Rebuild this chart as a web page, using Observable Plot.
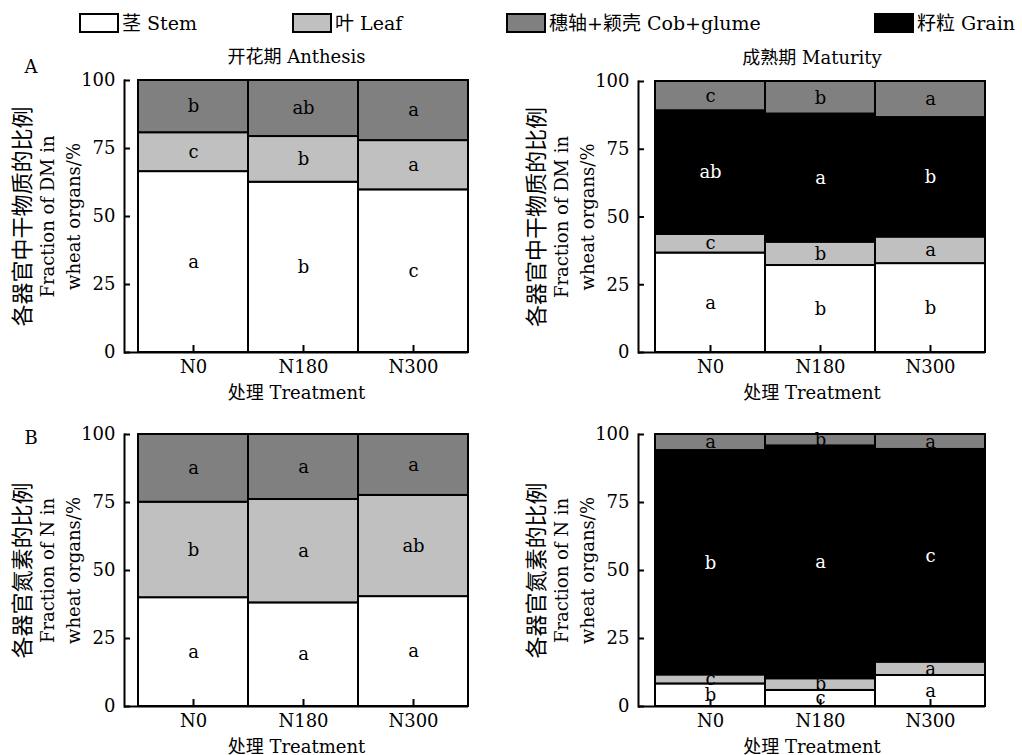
<!DOCTYPE html>
<html><head><meta charset="utf-8">
<script src="https://cdn.jsdelivr.net/npm/d3@7"></script>
<script src="https://cdn.jsdelivr.net/npm/@observablehq/plot@0.6"></script>
<style>
body{margin:0;background:#fff;}
#root{position:relative;width:1022px;height:755px;overflow:hidden;font-family:"DejaVu Serif","Noto Sans CJK SC",serif;color:#000;}
.panel{position:absolute;}
.panel svg{overflow:visible;}
.leg{position:absolute;display:flex;align-items:center;font-size:19px;white-space:nowrap;line-height:1;}
.sw{box-sizing:border-box;width:40px;height:20px;border:2px solid #000;margin-right:3px;}
.tag{position:absolute;font-size:18px;transform:translate(-50%,-50%);}
</style></head><body><div id="root"></div>
<script>
const FONT = '"DejaVu Serif","Noto Sans CJK SC",serif';
const treatments = ["N0", "N180", "N300"];
const legendOrgans = ["Stem", "Leaf", "Cob+glume", "Grain"];
const legendLabels = ["茎 Stem", "叶 Leaf", "穗轴+颖壳 Cob+glume", "籽粒 Grain"];
const organColors = ["#ffffff", "#c0c0c0", "#808080", "#000000"];
const yTicks = [0, 25, 50, 75, 100];
const xLabel = "处理 Treatment";
const titles = ["开花期 Anthesis", "成熟期 Maturity"];
const yLabelDM = ["各器官中干物质的比例", "Fraction of DM in", "wheat organs/%"];
const yLabelN = ["各器官氮素的比例", "Fraction of N in", "wheat organs/%"];

// A: dry matter, anthesis
const dmAnthStem = [66.5, 62.6, 59.8];
const dmAnthLeaf = [14.3, 16.8, 18.1];
const dmAnthCob = [19.2, 20.6, 22.1];
const dmAnthStemL = ["a", "b", "c"];
const dmAnthLeafL = ["c", "b", "a"];
const dmAnthCobL = ["b", "ab", "a"];
// A: dry matter, maturity
const dmMatStem = [36.7, 32.1, 32.8];
const dmMatLeaf = [6.9, 8.6, 9.8];
const dmMatGrain = [45.6, 47.3, 44.1];
const dmMatCob = [10.8, 12.0, 13.3];
const dmMatStemL = ["a", "b", "b"];
const dmMatLeafL = ["c", "b", "a"];
const dmMatGrainL = ["ab", "a", "b"];
const dmMatCobL = ["c", "b", "a"];
// B: nitrogen, anthesis
const nAnthStem = [40.0, 38.1, 40.4];
const nAnthLeaf = [35.1, 38.0, 37.2];
const nAnthCob = [24.9, 23.9, 22.4];
const nAnthStemL = ["a", "a", "a"];
const nAnthLeafL = ["b", "a", "ab"];
const nAnthCobL = ["a", "a", "a"];
// B: nitrogen, maturity
const nMatStem = [8.3, 5.9, 11.4];
const nMatLeaf = [3.3, 4.3, 4.9];
const nMatGrain = [82.5, 85.6, 78.2];
const nMatCob = [5.9, 4.2, 5.5];
const nMatStemL = ["b", "c", "a"];
const nMatLeafL = ["c", "b", "a"];
const nMatGrainL = ["b", "a", "c"];
const nMatCobL = ["a", "b", "a"];

const root = document.getElementById("root");

// legend
const legendPos = [79, 292, 506, 874];
legendOrgans.forEach((o, i) => {
  const d = document.createElement("div");
  d.className = "leg";
  d.style.left = legendPos[i] + "px";
  d.style.top = "13px";
  const sw = document.createElement("div");
  sw.className = "sw";
  sw.style.background = organColors[i];
  const t = document.createElement("span");
  t.textContent = legendLabels[i];
  d.appendChild(sw); d.appendChild(t);
  root.appendChild(d);
});
[["A", 31, 66], ["B", 31, 437]].forEach(([s, x, y]) => {
  const d = document.createElement("div");
  d.className = "tag"; d.textContent = s;
  d.style.left = x + "px"; d.style.top = y + "px";
  root.appendChild(d);
});

function panel(cfg) {
  const rows = [];
  for (const s of cfg.series) treatments.forEach((t, i) => rows.push({treatment: t, organ: s.organ, value: s.values[i], letter: s.letters[i]}));
  const fr = cfg.frame, W = 510, H = cfg.height;
  const T = {fontFamily: FONT};
  const plot = Plot.plot({
    width: W, height: H,
    marginLeft: fr[0] - cfg.x, marginTop: fr[1] - cfg.y,
    marginRight: cfg.x + W - fr[2], marginBottom: cfg.y + H - fr[3],
    style: {fontFamily: FONT, fontSize: "17px", background: "transparent", overflow: "visible", color: "black"},
    x: {domain: treatments, padding: 0, insetLeft: cfg.inset, label: null, axis: null},
    y: {domain: [0, 100], label: null, axis: null},
    color: {domain: legendOrgans, range: organColors},
    marks: [
      Plot.barY(rows, {x: "treatment", y: "value", fill: "organ", stroke: "black", strokeWidth: 2}),
      Plot.text(rows, Plot.stackY({x: "treatment", y: "value", text: d => d.organ === "Grain" ? "" : d.letter, fill: "black", fontSize: 18, ...T})),
      Plot.text(rows, Plot.stackY({x: "treatment", y: "value", text: d => d.organ === "Grain" ? d.letter : "", fill: "white", fontSize: 18, ...T})),
      Plot.ruleY([0], {strokeWidth: 2}),
      Plot.frame({anchor: "left", strokeWidth: 2}),
      Plot.axisY(yTicks, {tickSize: -6, tickPadding: 15, strokeWidth: 2, fontSize: 18, label: null, ...T}),
      Plot.axisX({tickSize: -7, tickPadding: 15, strokeWidth: 2, fontSize: 18, label: null, ...T}),
      cfg.title ? Plot.text([cfg.title], {text: d => d, frameAnchor: "top", dy: -30, fontSize: 18, ...T}) : null,
      Plot.text([xLabel], {text: d => d, frameAnchor: "bottom", dy: 46, fontSize: 18, ...T}),
      Plot.text([cfg.ylabel[0]], {text: d => d, frameAnchor: "left", textAnchor: "middle", rotate: -90, dx: -102, fontSize: 22, ...T}),
      Plot.text([cfg.ylabel[1]], {text: d => d, frameAnchor: "left", textAnchor: "middle", rotate: -90, dx: -76, fontSize: 18, ...T}),
      Plot.text([cfg.ylabel[2]], {text: d => d, frameAnchor: "left", textAnchor: "middle", rotate: -90, dx: -50, fontSize: 18, ...T})
    ]
  });
  const wrap = document.createElement("div");
  wrap.className = "panel";
  wrap.style.left = cfg.x + "px"; wrap.style.top = cfg.y + "px";
  wrap.appendChild(plot);
  root.appendChild(wrap);
}

panel({x: 0, y: 40, height: 370, frame: [124, 80, 468, 352], inset: 13, title: titles[0], ylabel: yLabelDM,
  series: [
    {organ: "Stem", values: dmAnthStem, letters: dmAnthStemL},
    {organ: "Leaf", values: dmAnthLeaf, letters: dmAnthLeafL},
    {organ: "Cob+glume", values: dmAnthCob, letters: dmAnthCobL}]});
panel({x: 500, y: 40, height: 370, frame: [638, 81, 985, 352], inset: 17, title: titles[1], ylabel: yLabelDM,
  series: [
    {organ: "Stem", values: dmMatStem, letters: dmMatStemL},
    {organ: "Leaf", values: dmMatLeaf, letters: dmMatLeafL},
    {organ: "Grain", values: dmMatGrain, letters: dmMatGrainL},
    {organ: "Cob+glume", values: dmMatCob, letters: dmMatCobL}]});
panel({x: 0, y: 394, height: 361, frame: [124, 434, 468, 706], inset: 13, title: null, ylabel: yLabelN,
  series: [
    {organ: "Stem", values: nAnthStem, letters: nAnthStemL},
    {organ: "Leaf", values: nAnthLeaf, letters: nAnthLeafL},
    {organ: "Cob+glume", values: nAnthCob, letters: nAnthCobL}]});
panel({x: 500, y: 394, height: 361, frame: [638, 434, 985, 706], inset: 17, title: null, ylabel: yLabelN,
  series: [
    {organ: "Stem", values: nMatStem, letters: nMatStemL},
    {organ: "Leaf", values: nMatLeaf, letters: nMatLeafL},
    {organ: "Grain", values: nMatGrain, letters: nMatGrainL},
    {organ: "Cob+glume", values: nMatCob, letters: nMatCobL}]});
</script></body></html>
